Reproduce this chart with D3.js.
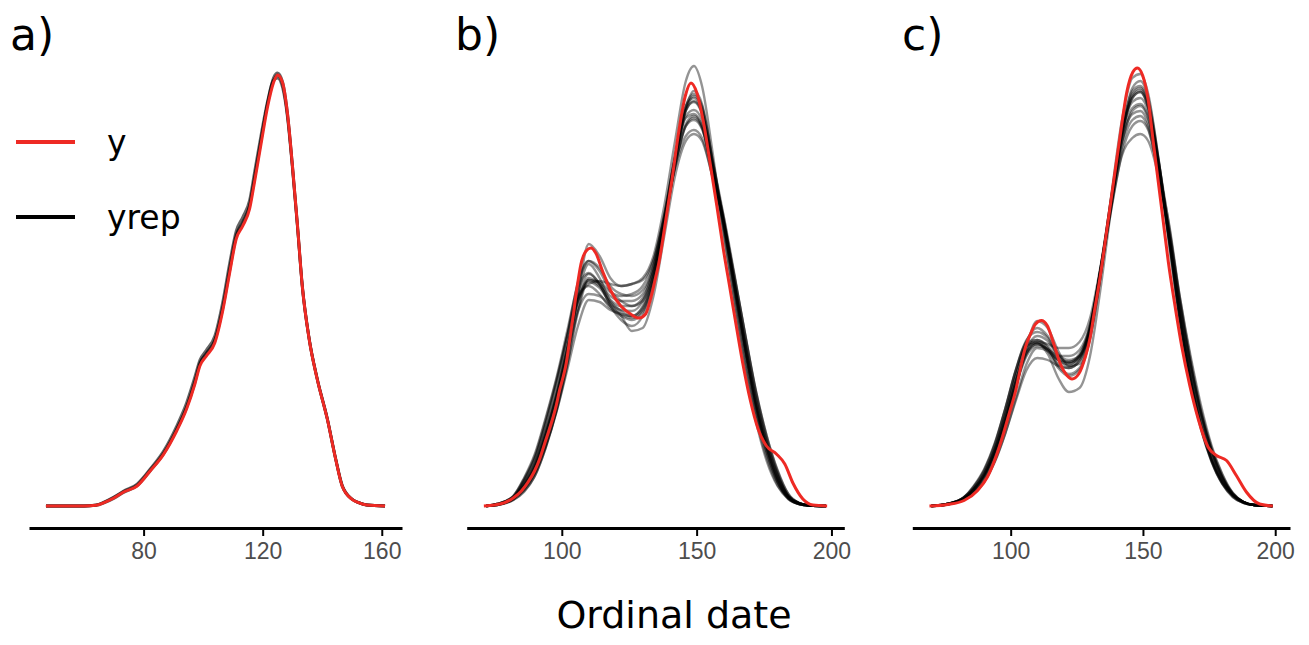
<!DOCTYPE html>
<html>
<head>
<meta charset="utf-8">
<script src="https://cdn.jsdelivr.net/npm/d3@7"></script>
<style>
  html, body { margin: 0; padding: 0; background: #ffffff; }
  svg { display: block; }
</style>
</head>
<body>
<svg id="chart" width="1309" height="645"></svg>
<script>
// ---------------- DATA (densities in 1e-4 units) ----------------
const panelLabels = ["a)", "b)", "c)"];
const legendLabels = ["y", "yrep"];
const xTitle = "Ordinal date";
const ticksA = [80, 120, 160];
const ticksB = [100, 150, 200];
const ticksC = [100, 150, 200];

// panel a: observed density (y)
const aDate = [47.2, 60, 64, 66.7, 70, 73.3, 77.8, 82.2, 86.7, 91.1, 94.4, 97.2, 98.9, 101.1, 103.9, 106.7, 108.9, 111.1, 113.3, 115.6, 117.2, 119.5, 121.7, 123.6, 125, 126.7, 128.3, 130, 131.7, 133.3, 135.6, 138.3, 141.7, 144.5, 146.7, 150, 152.2, 155, 161.1];
const aY = [0, 0, 0.7, 3.4, 8, 14, 20, 35, 51.7, 75, 96.7, 121.7, 140, 150, 163, 197, 233, 267, 280, 297, 323, 363, 400, 423, 431, 423, 393, 340, 280, 220, 167, 127, 87, 47, 20, 6.7, 3.4, 1, 0];
// panel a: replicated densities (yrep), same dates
const aRep1 = [0, 0, 1, 4, 9, 15, 22, 37, 55, 80, 103, 129, 146, 156, 170, 206, 243, 275, 289, 306, 333, 372, 406, 426, 428, 418, 389, 337, 278, 219, 167, 127, 87, 47, 20, 6.7, 3.4, 1, 0];
const aRep2 = [0, 0, 0.8, 3.6, 8.5, 14.5, 21, 36, 53, 77, 99, 125, 143, 153, 166, 201, 238, 271, 284, 301, 328, 368, 403, 425, 431, 421, 391, 339, 279, 220, 167, 127, 87, 47, 20, 6.7, 3.4, 1, 0];
const aRep3 = [0, 0, 0.6, 3, 7.5, 13.5, 20, 35, 52, 76, 98, 123, 142, 152, 165, 199, 235, 269, 283, 300, 326, 366, 404, 428, 433, 424, 394, 341, 281, 221, 168, 128, 88, 48, 21, 7, 3.5, 1, 0];

// panel b: observed density (y)
const bDate = [71.1, 75, 78.8, 82, 85, 87.5, 89.9, 91.8, 93.6, 95.2, 96.7, 98, 99.1, 100.4, 101.6, 102.5, 103.4, 104.4, 105.3, 106.2, 107.1, 108, 109, 110.8, 112.6, 115.1, 118.2, 121.9, 125.5, 128.6, 131.1, 132.9, 134.5, 136, 138.4, 140.9, 143.3, 145.8, 147.9, 150.1, 152.6, 155, 157.5, 159.9, 162.4, 164.9, 167.3, 169.8, 172.8, 175.9, 179.6, 182.7, 185.7, 189.4, 193.1, 198.4];
const bY = [0, 1, 3.3, 8, 15, 24, 35, 47, 62, 75, 88, 101, 115, 128, 142, 158, 175, 193, 212, 228, 242, 250, 255, 258, 253, 235, 215, 200, 192, 188, 192, 207, 225, 243, 283, 327, 373, 410, 423, 413, 383, 343, 300, 257, 217, 177, 140, 107, 77, 60, 52, 42, 23, 7, 1, 0];
// panel b: replicated densities (yrep) on a common date grid
const bRepDate = [72, 76, 82, 86, 90, 94, 98, 102, 106, 110, 114, 118, 122, 126, 130, 134, 138, 142, 146, 149, 152, 156, 160, 164, 168, 172, 176, 180, 184, 188, 192, 198];
const bRep01 = [0, 1, 6, 14, 30, 58, 96, 146, 212, 262, 250, 228, 220, 222, 228, 250, 300, 365, 425, 440, 420, 352, 275, 205, 140, 85, 45, 20, 7, 2, 0.5, 0];
const bRep02 = [0, 2, 10, 28, 52, 88, 128, 175, 222, 245, 235, 215, 205, 200, 205, 232, 282, 342, 398, 415, 402, 345, 290, 225, 160, 102, 58, 26, 8, 2, 0.5, 0];
const bRep03 = [0, 1.5, 8, 20, 39, 70, 108, 155, 212, 242, 228, 205, 195, 190, 198, 230, 285, 348, 400, 408, 395, 340, 285, 222, 158, 100, 58, 27, 9, 2.5, 0.5, 0];
const bRep04 = [0, 1, 7, 16, 32, 60, 96, 142, 198, 228, 222, 210, 205, 205, 212, 240, 290, 348, 390, 396, 386, 336, 282, 222, 162, 106, 63, 31, 10, 3, 0.5, 0];
const bRep05 = [0, 2, 9, 26, 48, 83, 124, 170, 218, 233, 222, 202, 192, 188, 196, 228, 282, 345, 395, 405, 393, 338, 270, 205, 142, 88, 48, 21, 8, 2, 0.5, 0];
const bRep06 = [0, 1.5, 8, 21, 41, 73, 111, 158, 206, 226, 220, 206, 200, 200, 208, 236, 284, 340, 382, 390, 380, 332, 284, 224, 163, 107, 63, 31, 10, 3, 0.5, 0];
const bRep07 = [0, 1, 6, 15, 30, 58, 94, 140, 194, 226, 224, 214, 210, 212, 220, 245, 292, 348, 388, 392, 380, 330, 278, 218, 158, 102, 60, 29, 10, 3, 0.5, 0];
const bRep08 = [0, 2, 10, 27, 50, 86, 126, 170, 210, 220, 212, 198, 190, 186, 194, 225, 280, 340, 380, 386, 377, 333, 290, 232, 171, 113, 67, 33, 10, 3, 0.5, 0];
const bRep09 = [0, 1.5, 8, 22, 42, 74, 112, 158, 205, 224, 218, 203, 196, 195, 205, 236, 285, 338, 370, 376, 368, 328, 284, 230, 172, 115, 70, 35, 12, 3, 0.5, 0];
const bRep10 = [0, 1, 7, 17, 33, 60, 94, 136, 180, 206, 204, 196, 192, 190, 200, 232, 288, 350, 396, 404, 392, 340, 282, 218, 155, 98, 55, 25, 8, 2, 0.5, 0];
const bRep11 = [0, 2, 9, 25, 47, 82, 122, 170, 224, 245, 238, 220, 212, 210, 216, 240, 288, 345, 396, 410, 398, 343, 286, 220, 155, 97, 53, 24, 8, 2, 0.5, 0];
const bRep12 = [0, 1.5, 8, 21, 40, 72, 110, 156, 208, 232, 222, 200, 186, 180, 190, 225, 284, 350, 400, 412, 400, 345, 285, 216, 151, 94, 53, 24, 7, 2, 0.5, 0];
const bRep13 = [0, 1, 7, 19, 38, 70, 108, 152, 195, 212, 210, 200, 190, 175, 178, 210, 270, 330, 365, 372, 365, 328, 286, 230, 171, 115, 70, 36, 12, 3, 0.5, 0];
const bRep14 = [0, 2, 9, 23, 43, 76, 114, 160, 205, 222, 225, 222, 220, 222, 226, 246, 288, 340, 380, 388, 378, 333, 283, 221, 159, 103, 60, 28, 9, 2.5, 0.5, 0];

// panel c: observed density (y)
const cDate = [69.3, 76.2, 82.4, 87.5, 91.2, 94.4, 96.9, 99.4, 101.9, 103.8, 105.6, 107.5, 109.4, 111.6, 113.8, 116.3, 118.8, 121.3, 123.2, 125.7, 128.2, 130.1, 131.4, 133.9, 136.4, 138.9, 141.4, 143.9, 146.2, 147.9, 149.9, 152.1, 153.9, 155.8, 157.7, 159.6, 162.1, 164.6, 167.7, 170.9, 174.6, 177.8, 181.6, 185.3, 189.1, 194.1, 199.1];
const cY = [0, 1.5, 5.5, 15.5, 29, 49, 69, 92, 115.5, 139, 159, 172, 182, 185.5, 180.5, 162, 142, 130.5, 127, 132, 149, 169, 190.5, 230.5, 277, 324, 370.5, 414, 434, 438, 430.5, 404, 364, 324, 284, 244, 200.5, 160.5, 120.5, 87, 59, 50.5, 45.5, 30.5, 14, 2, 0];
// panel c: replicated densities (yrep) on a common date grid
const cRepDate = [70, 76, 82, 86, 90, 94, 98, 102, 106, 110, 114, 118, 122, 126, 130, 134, 138, 142, 146, 149, 152, 156, 160, 164, 168, 172, 176, 180, 184, 188, 192, 199];
const cRep01 = [0, 1.5, 6, 13, 25, 46, 78, 118, 160, 185, 178, 155, 140, 142, 170, 232, 310, 385, 428, 432, 412, 345, 265, 185, 122, 76, 44, 22, 9, 3, 1, 0];
const cRep02 = [0, 2, 8, 19, 35, 61, 97, 136, 166, 174, 168, 150, 143, 148, 176, 236, 306, 372, 412, 418, 402, 343, 278, 205, 142, 92, 54, 28, 11, 4, 1, 0];
const cRep03 = [0, 2, 7, 16, 30, 53, 85, 122, 152, 162, 156, 142, 138, 145, 176, 238, 308, 372, 404, 408, 394, 338, 262, 186, 126, 79, 46, 24, 11, 4, 1, 0];
const cRep04 = [0, 1.5, 7, 15, 29, 52, 84, 120, 150, 160, 157, 150, 150, 156, 182, 238, 302, 362, 395, 400, 387, 333, 272, 202, 142, 92, 55, 29, 11, 4, 1, 0];
const cRep05 = [0, 2, 8, 20, 37, 63, 98, 136, 162, 164, 155, 138, 130, 136, 167, 230, 304, 375, 415, 420, 404, 344, 268, 190, 128, 80, 46, 23, 10, 3, 1, 0];
const cRep06 = [0, 2, 7, 16, 30, 54, 87, 125, 157, 170, 165, 150, 144, 150, 178, 236, 303, 366, 398, 402, 389, 335, 280, 208, 147, 96, 58, 31, 12, 4, 1, 0];
const cRep07 = [0, 1.5, 6, 12, 24, 44, 73, 108, 142, 158, 155, 146, 144, 152, 180, 238, 304, 364, 392, 395, 382, 330, 264, 194, 136, 88, 52, 27, 12, 4, 1, 0];
const cRep08 = [0, 2, 8, 19, 36, 62, 98, 137, 164, 166, 158, 140, 132, 138, 168, 230, 302, 370, 410, 416, 400, 342, 268, 190, 128, 80, 46, 24, 10, 3, 1, 0];
const cRep09 = [0, 2, 7, 16, 31, 55, 88, 125, 154, 162, 157, 146, 142, 150, 180, 236, 296, 352, 380, 385, 376, 330, 275, 208, 150, 100, 60, 32, 13, 4, 1, 0];
const cRep10 = [0, 1.5, 6, 13, 25, 45, 73, 106, 136, 148, 146, 140, 138, 145, 176, 238, 308, 374, 408, 414, 398, 340, 266, 190, 130, 82, 48, 25, 11, 4, 1, 0];
const cRep11 = [0, 2, 8, 17, 32, 56, 90, 130, 165, 178, 170, 152, 146, 150, 176, 234, 304, 370, 408, 414, 398, 340, 258, 182, 124, 78, 45, 23, 11, 4, 1, 0];
const cRep12 = [0, 2, 7, 17, 32, 57, 92, 131, 160, 163, 152, 128, 114, 118, 150, 218, 298, 372, 418, 425, 408, 345, 266, 188, 126, 78, 44, 22, 9, 3, 1, 0];
const cRep13 = [0, 1.5, 7, 15, 29, 52, 84, 122, 153, 164, 162, 158, 158, 164, 188, 240, 300, 358, 386, 390, 378, 330, 266, 196, 138, 90, 54, 28, 12, 4, 1, 0];
const cRep14 = [0, 2, 8, 17, 32, 56, 89, 126, 156, 166, 160, 146, 140, 148, 178, 236, 298, 350, 368, 372, 365, 328, 272, 202, 142, 93, 56, 29, 13, 4, 1, 0];

// ---------------- LAYOUT / STYLE ----------------
const RED = "#EE2A24";
const svg = d3.select("#chart");
const axisY = 528;
const yScale = d3.scaleLinear().domain([0, 460]).range([506, 46]);

const panels = [
  { label: panelLabels[0], labelX: 10, range: [29, 402], ticks: ticksA,
    yDate: aDate, y: aY, repDate: aDate, reps: [aRep1, aRep2, aRep3], repOpacity: 0.6, repWidth: 2.8 },
  { label: panelLabels[1], labelX: 455, range: [466.7, 844.3], ticks: ticksB,
    yDate: bDate, y: bY, repDate: bRepDate,
    reps: [bRep01, bRep02, bRep03, bRep04, bRep05, bRep06, bRep07, bRep08, bRep09, bRep10, bRep11, bRep12, bRep13, bRep14],
    repOpacity: 0.42, repWidth: 2.4 },
  { label: panelLabels[2], labelX: 902, range: [912.3, 1290], ticks: ticksC,
    yDate: cDate, y: cY, repDate: cRepDate,
    reps: [cRep01, cRep02, cRep03, cRep04, cRep05, cRep06, cRep07, cRep08, cRep09, cRep10, cRep11, cRep12, cRep13, cRep14],
    repOpacity: 0.42, repWidth: 2.4 }
];

panels.forEach(p => {
  const ext = d3.extent(p.yDate);
  const pad = (ext[1] - ext[0]) * 0.05;
  const x = d3.scaleLinear().domain([ext[0] - pad, ext[1] + pad]).range(p.range);
  const g = svg.append("g");

  const line = d3.line().curve(d3.curveMonotoneX);

  // yrep curves
  p.reps.forEach(r => {
    g.append("path")
      .attr("d", line(r.map((v, i) => [x(p.repDate[i]), yScale(v)])))
      .attr("fill", "none")
      .attr("stroke", "#000")
      .attr("stroke-opacity", p.repOpacity)
      .attr("stroke-width", p.repWidth)
      .attr("stroke-linejoin", "round");
  });
  // observed y
  g.append("path")
    .attr("d", line(p.y.map((v, i) => [x(p.yDate[i]), yScale(v)])))
    .attr("fill", "none")
    .attr("stroke", RED)
    .attr("stroke-width", 3)
    .attr("stroke-linejoin", "round");

  // axis
  const ax = g.append("g")
    .attr("transform", `translate(0,${axisY})`)
    .call(d3.axisBottom(x).tickValues(p.ticks).tickSize(8).tickSizeOuter(0).tickPadding(7));
  ax.select(".domain").attr("stroke", "#000").attr("stroke-width", 3);
  ax.selectAll(".tick line").attr("stroke", "#000").attr("stroke-width", 2);
  ax.selectAll(".tick text")
    .attr("fill", "#4D4D4D")
    .style("font-family", "'Liberation Sans', Arial, sans-serif")
    .style("font-size", "23px");

  // panel label
  svg.append("text")
    .attr("x", p.labelX).attr("y", 50)
    .style("font-family", "'DejaVu Sans', sans-serif")
    .style("font-size", "44px")
    .attr("fill", "#000")
    .text(p.label);
});

// legend
const legColors = [RED, "#000"];
legendLabels.forEach((lab, i) => {
  const yy = 142 + i * 75;
  svg.append("line")
    .attr("x1", 16).attr("x2", 75).attr("y1", yy).attr("y2", yy)
    .attr("stroke", legColors[i]).attr("stroke-width", 4);
  svg.append("text")
    .attr("x", 107).attr("y", yy + 12)
    .style("font-family", "'DejaVu Sans', sans-serif")
    .style("font-size", "33px")
    .attr("fill", "#000")
    .text(lab);
});

// x title
svg.append("text")
  .attr("x", 674).attr("y", 628)
  .attr("text-anchor", "middle")
  .style("font-family", "'DejaVu Sans', sans-serif")
  .style("font-size", "38px")
  .attr("fill", "#000")
  .text(xTitle);
</script>
</body>
</html>
